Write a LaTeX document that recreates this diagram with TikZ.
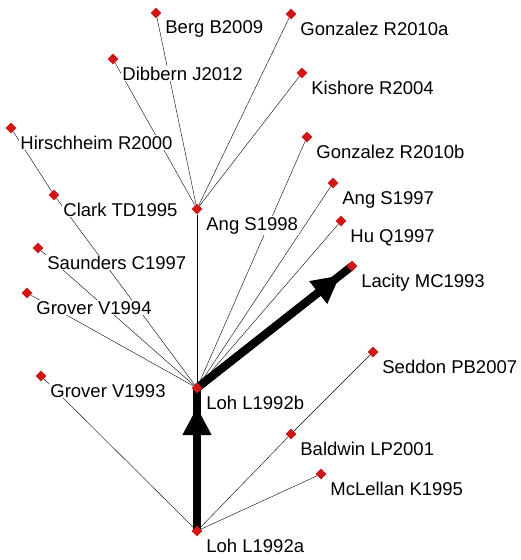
\documentclass[tikz,border=0pt]{standalone}
\usepackage{fontspec}
\setmainfont{Liberation Sans}
\usepackage{tikz}
\usetikzlibrary{shapes,arrows.meta,backgrounds}
\definecolor{dotred}{RGB}{208,22,22}
\tikzset{dot/.style={diamond,fill=dotred,inner sep=0pt,minimum size=11pt}}
\tikzset{lbl/.style={anchor=base west,fill=white,inner sep=1pt,font=\fontsize{18.5}{20}\selectfont}}
\tikzset{mainpath/.style={line width=8pt}}

\begin{document}
\begin{tikzpicture}[x=1pt,y=-1pt,line width=0.8pt]
        \useasboundingbox (0,0) rectangle (520,560);
        \node[dot] (berg)at (156,13) {};
        \node[dot] (gonzA)at (291,14) {};
        \node[dot] (dibbern)at (113,59) {};
        \node[dot] (kishore)at (302,73) {};
        \node[dot] (hirsch)at (11,128) {};
        \node[dot] (gonzB)at (307,137) {};
        \node[dot] (clark)at (54,195) {};
        \node[dot] (angB)at (197,209) {};
        \node[dot] (angA)at (333,183) {};
        \node[dot] (hu)at (341,221) {};
        \node[dot] (saunders)at (38,248) {};
        \node[dot] (lacity)at (352,266) {};
        \node[dot] (groverB)at (27,293) {};
        \node[dot] (groverA)at (41,376) {};
        \node[dot] (lohB)at (197,388) {};
        \node[dot] (seddon)at (373,352) {};
        \node[dot] (baldwin)at (291,434) {};
        \node[dot] (mclellan)at (321,474) {};
        \node[dot] (lohA)at (197,531) {};

        \begin{scope}[on background layer]
        \draw [] (berg) to (angB);
        \draw [] (gonzA) to (angB);
        \draw [] (dibbern) to (angB);
        \draw [] (kishore) to (angB);
        \draw [] (hirsch) to (clark);
        \draw [] (angB) to (lohB);
        \draw [] (gonzB) to (lohB);
        \draw [] (angA) to (lohB);
        \draw [] (hu) to (lohB);
        \draw [] (clark) to (lohB);
        \draw [] (saunders) to (lohB);
        \draw [] (groverB) to (lohB);
        \draw [] (groverA) to (lohA);
        \draw [] (baldwin) to (lohA);
        \draw [] (seddon) to (baldwin);
        \draw [] (mclellan) to (lohA);
        \draw [mainpath] (lohB.center) to (lacity.center);
        \draw [mainpath,-{Triangle[length=28pt,width=27pt]},shorten >=15pt] (lohB.center) to (lacity.center);
        \draw [mainpath] (lohA.center) to (lohB.center);
        \draw [mainpath,-{Triangle[length=28pt,width=27pt]},shorten >=19pt] (lohA.center) to (lohB.center);
        \end{scope}

        \node[lbl] (bergT)at (164,33) {Berg B2009};
        \node[lbl] (gonzAT)at (299,35) {Gonzalez R2010a};
        \node[lbl] (dibbernT)at (121,80) {Dibbern J2012};
        \node[lbl] (kishoreT)at (310,94) {Kishore R2004};
        \node[lbl] (hirschT)at (19,149) {Hirschheim R2000};
        \node[lbl] (gonzBT)at (315,158) {Gonzalez R2010b};
        \node[lbl] (clarkT)at (62,216) {Clark TD1995};
        \node[lbl] (angBT)at (205,230) {Ang S1998};
        \node[lbl] (angAT)at (341,204) {Ang S1997};
        \node[lbl] (huT)at (349,242) {Hu Q1997};
        \node[lbl] (saundersT)at (46,269) {Saunders C1997};
        \node[lbl] (lacityT)at (360,287) {Lacity MC1993};
        \node[lbl] (groverBT)at (35,314) {Grover V1994};
        \node[lbl] (groverAT)at (49,397) {Grover V1993};
        \node[lbl] (lohBT)at (205,409) {Loh L1992b};
        \node[lbl] (seddonT)at (381,373) {Seddon PB2007};
        \node[lbl] (baldwinT)at (299,455) {Baldwin LP2001};
        \node[lbl] (mclellanT)at (329,495) {McLellan K1995};
        \node[lbl] (lohAT)at (205,552) {Loh L1992a};
\end{tikzpicture}
\end{document}
